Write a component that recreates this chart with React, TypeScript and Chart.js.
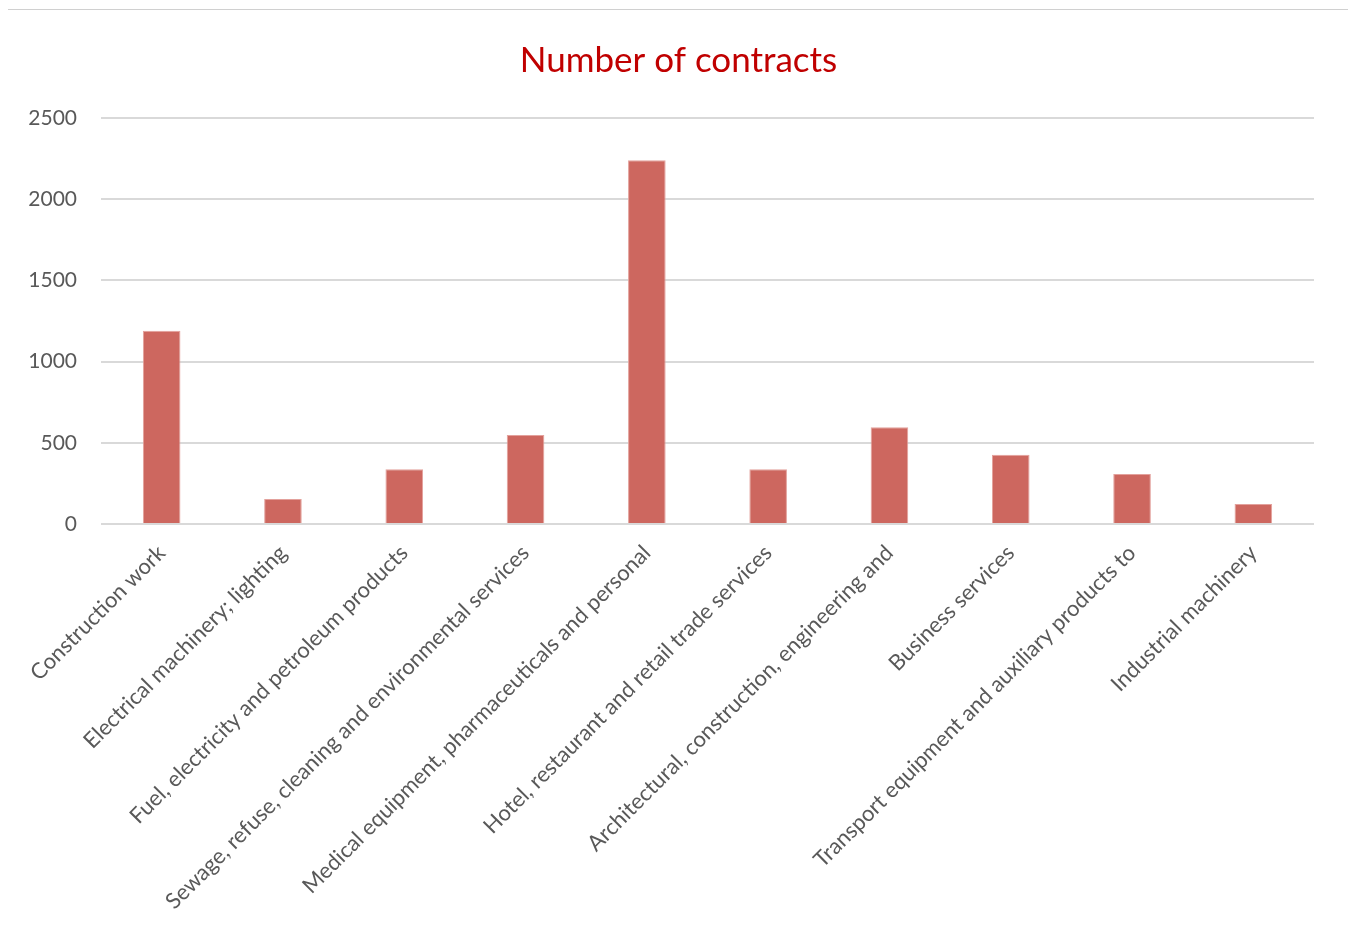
import React, { useEffect, useRef } from "react";
import { Chart, registerables } from "chart.js";

Chart.register(...registerables);

const categories: string[] = [
  "Construction work",
  "Electrical machinery; lighting",
  "Fuel, electricity and petroleum products",
  "Sewage, refuse, cleaning and environmental services",
  "Medical equipment, pharmaceuticals and personal",
  "Hotel, restaurant and retail trade services",
  "Architectural, construction, engineering and",
  "Business services",
  "Transport equipment and auxiliary products to",
  "Industrial machinery",
];

const contracts: number[] = [1190, 154, 337, 548, 2240, 337, 595, 427, 308, 123];

const yTicks: number[] = [0, 500, 1000, 1500, 2000, 2500];

const FONT = "Lato, 'Open Sans', sans-serif";

export default function App() {
  const ref = useRef<HTMLCanvasElement | null>(null);

  useEffect(() => {
    if (!ref.current) return;
    const chart = new Chart(ref.current, {
      type: "bar",
      data: {
        labels: categories,
        datasets: [
          {
            label: "Number of contracts",
            data: contracts,
            backgroundColor: "#CD675F",
            borderColor: "#E3A19C",
            borderWidth: 1,
            categoryPercentage: 1,
            barPercentage: 0.31,
            yAxisID: "y",
          },
        ],
      },
      options: {
        animation: false,
        responsive: false,
        maintainAspectRatio: false,
        layout: { padding: 0 },
        plugins: {
          legend: { display: false },
          tooltip: { enabled: false },
          title: {
            display: true,
            text: "Number of contracts",
            color: "#C00000",
            font: { family: FONT, size: 35, weight: "normal", lineHeight: 1.2 },
            padding: { top: 30, bottom: 36 },
          },
        },
        scales: {
          x: {
            grid: { display: false, drawTicks: false },
            border: { display: false },
            ticks: {
              autoSkip: false,
              maxRotation: 45,
              minRotation: 45,
              padding: 16,
              color: "#595959",
              font: { family: FONT, size: 22 },
            },
            afterFit: (scale: any) => {
              scale.height = 413;
            },
          },
          y: {
            min: 0,
            max: 2500,
            afterBuildTicks: (scale: any) => {
              scale.ticks = yTicks.map((v) => ({ value: v }));
            },
            grid: { color: "#D9D9D9", lineWidth: 2, drawTicks: false },
            border: { display: false },
            ticks: {
              padding: 24,
              color: "#595959",
              font: { family: FONT, size: 21 },
              callback: (v: any) => String(v),
            },
            afterFit: (scale: any) => {
              scale.width = 93;
            },
          },
          yRight: {
            position: "right",
            display: true,
            min: 0,
            max: 2500,
            grid: { display: false, drawTicks: false },
            border: { display: false },
            ticks: { display: false },
            afterFit: (scale: any) => {
              scale.width = 35;
            },
          },
        },
      },
    });
    return () => chart.destroy();
  }, []);

  return (
    <div
      style={{
        marginLeft: -1,
        marginTop: 1,
        width: 1343,
        height: 940,
        border: "1px solid #D0D0D0",
        boxSizing: "border-box",
        background: "#fff",
      }}
    >
      <canvas ref={ref} width={1341} height={927} style={{ display: "block" }} />
    </div>
  );
}
